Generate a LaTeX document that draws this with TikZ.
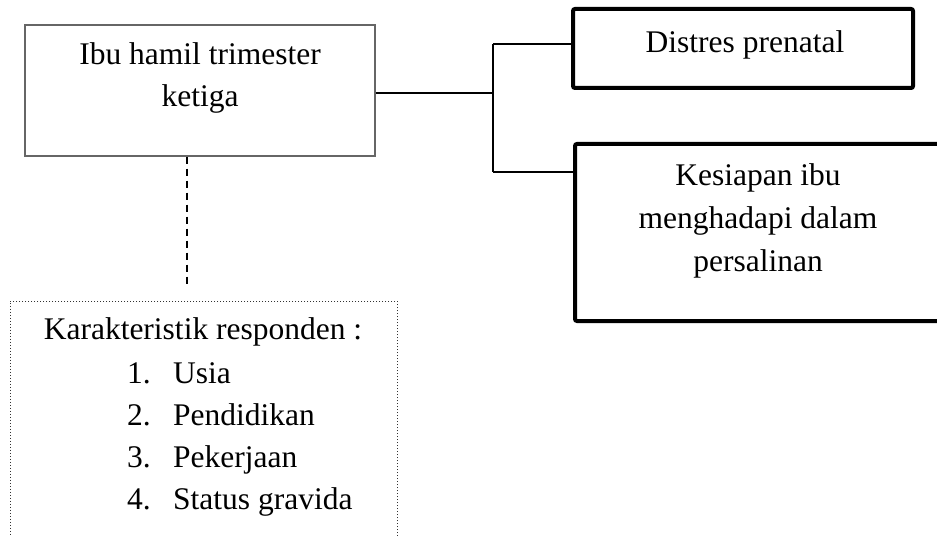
\documentclass[tikz,border=0pt]{standalone}
\usepackage{fontspec}
\setmainfont{Liberation Serif}
\begin{document}
\begin{tikzpicture}[x=1bp,y=-1bp,
  txt/.style={inner sep=0pt,anchor=base,font=\fontsize{31.5bp}{42bp}\selectfont},
  txtw/.style={txt,anchor=base west},
  thinbox/.style={draw=black!60,line width=1.2bp,inner sep=0pt},
  thickbox/.style={draw=black,line width=4bp,rounded corners=2bp,inner sep=0pt},
  conn/.style={draw=black,line width=1.4bp},
  dotbox/.style={draw=black!80,line width=0.9bp,dash pattern=on 1.5bp off 1.5bp,inner sep=0pt}]
\clip (0,0) rectangle (937,536);
\fill[white] (0,0) rectangle (937,536);
% boxes
\node[thinbox,minimum width=350bp,minimum height=131bp] (top) at (200,90.5) {};
\node[thickbox,minimum width=340bp,minimum height=79bp] (dis) at (743,48.5) {};
\node[thickbox,minimum width=372bp,minimum height=177bp] (kes) at (761,232.5) {};
\node[dotbox,minimum width=387bp,minimum height=280bp] (kar) at (203.5,441) {};
% texts
\node[txt] (t1) at (200,65) {Ibu hamil trimester};
\node[txt] (t2) at (200,107) {ketiga};
\node[txt] (d1) at (745,53) {Distres prenatal};
\node[txt] (k1) at (758,186) {Kesiapan ibu};
\node[txt] (k2) at (758,229) {menghadapi dalam};
\node[txt] (k3) at (758,272) {persalinan};
\node[txt] (c0) at (203,340) {Karakteristik responden :};
\node[txtw] (n1) at (127,383) {1.};
\node[txtw] (i1) at (173,383) {Usia};
\node[txtw] (n2) at (127,425) {2.};
\node[txtw] (i2) at (173,425) {Pendidikan};
\node[txtw] (n3) at (127,467) {3.};
\node[txtw] (i3) at (173,467) {Pekerjaan};
\node[txtw] (n4) at (127,509) {4.};
\node[txtw] (i4) at (173,509) {Status gravida};
% connectors
\coordinate (j) at (493,93);
\coordinate (ja) at (493,44);
\coordinate (jb) at (493,172);
\coordinate (dend) at (187,287);
\draw[conn] (top.east |- j) -- (j);
\draw[conn] (ja) -- (jb);
\draw[conn] (ja) -- (dis.west |- ja);
\draw[conn] (jb) -- (kes.west |- jb);
\draw[black,line width=1.6bp,dash pattern=on 7bp off 5bp] (top.south -| dend) -- (dend);
\end{tikzpicture}
\end{document}
